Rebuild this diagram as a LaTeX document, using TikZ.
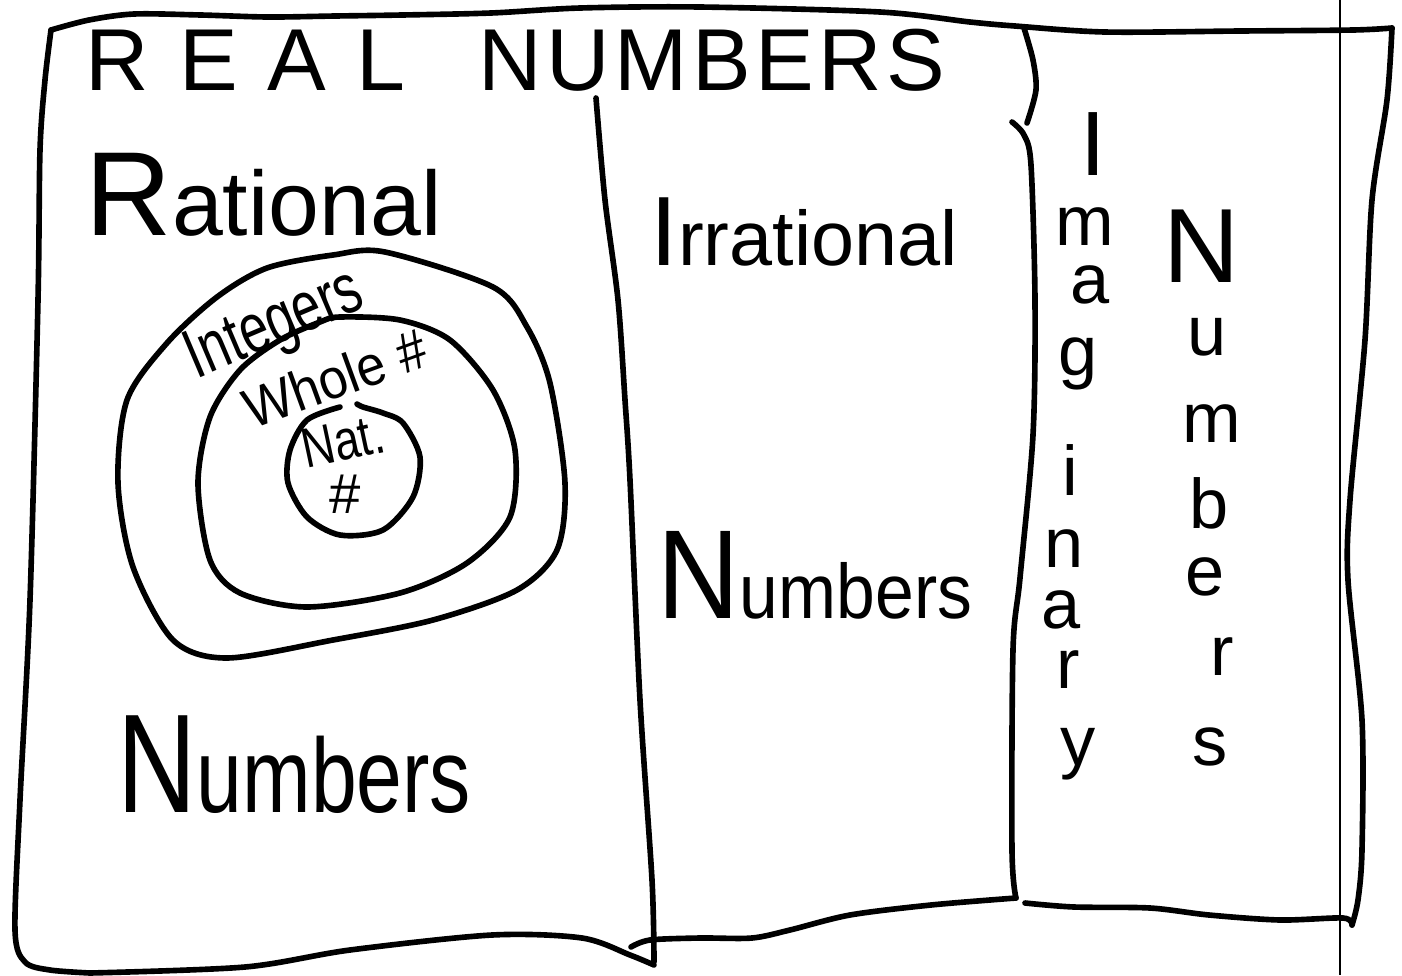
\documentclass[tikz,border=0pt]{standalone}
\usepackage{fontspec}
\setmainfont{Liberation Sans}
\newfontfamily\realfont[LetterSpace=34]{Liberation Sans}
\newfontfamily\numsfont[LetterSpace=5]{Liberation Sans}

\begin{document}
\begin{tikzpicture}[x=0.01cm,y=-0.01cm,
  pen/.style={line width=1.6pt,line cap=round,line join=round},
  word/.style={anchor=base,inner sep=0pt},
  vlet/.style={anchor=base,inner sep=0pt,font=\fontsize{20}{24}\selectfont}]

\useasboundingbox (0,0) rectangle (1402,975);

% Page edge
\draw[line width=0.6pt] (1340,0) -- (1340,975);

% Outer frame
\draw[pen] plot[smooth] coordinates {(51,30) (89,20) (134,14) (201,15) (268,17) (335,16) (402,15) (491,13) (580,8) (700,7) (880,12) (970,22) (1015,26) (1105,32) (1240,31) (1353,30) (1392,28)};
\draw[pen] plot[smooth] coordinates {(1392,28) (1387,100) (1372,200) (1365,340) (1350,500) (1348,580) (1362,720) (1362,850) (1358,900) (1352,925)};
\draw[pen] plot[smooth] coordinates {(51,30) (45,80) (40,150) (38,300) (30,600) (20,800) (15,930) (25,962) (50,970) (90,973)};

% Bottom edges
\draw[pen] plot[smooth] coordinates {(90,973) (245,967) (350,950) (492,935) (582,938) (630,955) (654,965)};
\draw[pen] plot[smooth] coordinates {(631,947) (650,940) (700,938) (752,938) (790,930) (850,915) (931,905) (1016,898)};
\draw[pen] plot[smooth] coordinates {(1025,903) (1074,907) (1150,908) (1209,915) (1280,920) (1343,918) (1352,925)};

% Rational / irrational divider
\draw[pen] plot[smooth] coordinates {(596,98) (605,200) (618,300) (625,400) (630,480) (640,700) (652,880) (654,962)};

% Real / imaginary divider
\draw[pen] plot[smooth] coordinates {(1024,28) (1033,60) (1036,90) (1027,123)};
\draw[pen] plot[smooth] coordinates {(1012,122) (1024,135) (1031,165) (1035,300) (1033,435) (1020,578) (1013,650) (1012,850) (1016,898)};

% Nested sets
\draw[pen] plot[smooth cycle] coordinates {(385,252) (493,287) (527,327) (550,383) (565,483) (557,550) (517,590) (433,620) (333,640) (227,658) (173,640) (133,567) (118,483) (127,400) (167,343) (217,297) (267,268) (333,255)};
\draw[pen] plot[smooth cycle] coordinates {(340,317) (400,320) (450,340) (493,390) (515,450) (510,517) (467,563) (400,593) (307,607) (240,593) (210,560) (198,483) (210,417) (240,370) (280,340) (320,322)};
\draw[pen] plot[smooth] coordinates {(357,404) (363,407) (383,413) (403,423) (420,457) (413,497) (383,530) (340,535) (307,517) (288,483) (290,450) (307,420) (340,407)};

% Headings
\node[word,anchor=base west,font=\realfont\fontsize{25}{30}\selectfont] (real) at (85,90) {REAL};
\node[word,anchor=base west,font=\numsfont\fontsize{25}{30}\selectfont] (numbers) at (478,90) {NUMBERS};

\node[word,anchor=base west] (rational) at (85,235) {\fontsize{34}{38}\selectfont R\fontsize{26}{30}\selectfont ational};
\node[word,anchor=base west] (irrational) at (650,265) {\fontsize{28}{32}\selectfont I\fontsize{22}{26}\selectfont rrational};
\node[word,anchor=base west,xscale=0.9] (irrnum) at (657,618) {\fontsize{36}{40}\selectfont N\fontsize{22}{26}\selectfont umbers};
\node[word,anchor=base west,xscale=0.78] (ratnum) at (117,812) {\fontsize{40}{44}\selectfont N\fontsize{30}{34}\selectfont umbers};

% Set labels
\node[word,rotate=23,xscale=0.73,font=\fontsize{20}{24}\selectfont] (integers) at (282,343) {Integers};
\node[word,rotate=20,xscale=0.92,font=\fontsize{16}{20}\selectfont] (whole) at (342,397) {Whole \#};
\node[word,rotate=12,xscale=0.8,font=\fontsize{16}{20}\selectfont] (nat) at (347,460) {Nat.};
\node[inner sep=0pt,font=\fontsize{16}{20}\selectfont] (natnum) at (345,494) {\#};

% Imaginary, written downwards
\node[vlet,font=\fontsize{26}{30}\selectfont] (imagI) at (1093,175) {I};
\foreach \ch/\xx/\yy [count=\i] in {m/1085/245, a/1090/303, g/1078/375, i/1070/495, n/1064/567, a/1061/628, r/1068/688, y/1078/765} {
  \node[vlet] (imag\i) at (\xx,\yy) {\ch};
}

% Numbers, written downwards
\node[vlet,font=\fontsize{30}{34}\selectfont] (numN) at (1202,282) {N};
\foreach \ch/\xx/\yy [count=\i] in {u/1207/355, m/1212/442, b/1209/528, e/1205/595, r/1222/675, s/1210/765} {
  \node[vlet] (num\i) at (\xx,\yy) {\ch};
}

\end{tikzpicture}
\end{document}
